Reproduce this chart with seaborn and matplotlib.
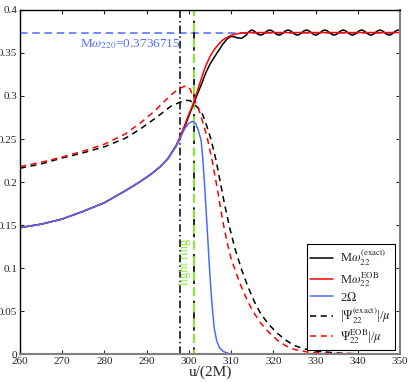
import numpy as np
import pandas as pd
import seaborn as sns
import matplotlib
matplotlib.use("Agg")
import matplotlib.pyplot as plt

# ---- data ----
u_exact = [260, 265, 270, 275, 280, 285, 288, 291, 293, 295, 297, 298, 299, 300,
           301.1, 302, 303, 304, 305, 306, 307, 308, 309, 309.8, 310.6, 311.5,
           312.5, 313.5, 314.2,
           314.80, 315.34, 315.89, 316.43, 316.98, 317.52, 318.06, 318.61,
           319.15, 319.69, 320.24, 320.78, 321.33, 321.87, 322.41, 322.96,
           323.50, 324.04, 324.59, 325.13, 325.68, 326.22, 326.76, 327.31,
           327.85, 328.39, 328.94, 329.48, 330.03, 330.57, 331.11, 331.66,
           332.20, 332.74, 333.29, 333.83, 334.38, 334.92, 335.46, 336.01,
           336.55, 337.09, 337.64, 338.18, 338.73, 339.27, 339.81, 340.36,
           340.90, 341.44, 341.99, 342.53, 343.08, 343.62, 344.16, 344.71,
           345.25, 345.79, 346.34, 346.88, 347.43, 347.97, 348.51, 349.06,
           349.60, 350.0]
omega_exact = [0.147, 0.151, 0.157, 0.166, 0.176, 0.190, 0.199, 0.209, 0.217, 0.227,
               0.242, 0.252, 0.264, 0.277, 0.291, 0.302, 0.314, 0.327, 0.337, 0.345,
               0.3525, 0.360, 0.366, 0.3690, 0.3690, 0.3675, 0.3670, 0.3705, 0.3745,
               0.3767, 0.3758, 0.3737, 0.3716, 0.3707, 0.3716, 0.3737, 0.3758,
               0.3767, 0.3758, 0.3737, 0.3716, 0.3707, 0.3716, 0.3737, 0.3758,
               0.3767, 0.3758, 0.3737, 0.3716, 0.3707, 0.3716, 0.3737, 0.3758,
               0.3767, 0.3758, 0.3737, 0.3716, 0.3707, 0.3716, 0.3737, 0.3758,
               0.3767, 0.3758, 0.3737, 0.3716, 0.3707, 0.3716, 0.3737, 0.3758,
               0.3767, 0.3758, 0.3737, 0.3716, 0.3707, 0.3716, 0.3737, 0.3758,
               0.3767, 0.3758, 0.3737, 0.3716, 0.3707, 0.3716, 0.3737, 0.3758,
               0.3767, 0.3758, 0.3737, 0.3716, 0.3707, 0.3716, 0.3737, 0.3758,
               0.3767, 0.3760]

u_eob = [260, 265, 270, 275, 280, 285, 288, 291, 293, 295, 297, 298, 299, 300,
         301.1, 302, 303, 303.6, 304, 305, 306, 307, 308, 309, 310, 311, 312.4,
         314, 350]
omega_eob = [0.147, 0.151, 0.157, 0.166, 0.176, 0.190, 0.199, 0.209, 0.217, 0.227,
             0.243, 0.254, 0.266, 0.279, 0.292, 0.306, 0.321, 0.330, 0.335, 0.346,
             0.354, 0.360, 0.365, 0.368, 0.3705, 0.372, 0.3732, 0.3737, 0.3737]

u_orb = [260, 265, 270, 275, 280, 285, 288, 291, 293, 295, 297, 298, 299, 300,
         300.9, 301.6, 302.3, 302.9, 303.3, 303.8, 304.4, 305.0, 305.5, 306.0,
         306.6, 307.3, 308.2, 309.5, 310.5, 350]
two_omega = [0.147, 0.151, 0.157, 0.166, 0.176, 0.190, 0.199, 0.209, 0.217, 0.227,
             0.242, 0.252, 0.262, 0.2685, 0.2705, 0.268, 0.259, 0.248, 0.227, 0.190,
             0.140, 0.090, 0.056, 0.030, 0.015, 0.007, 0.003, 0.0005, 0.0, 0.0]

u_psi_exact = [260, 265, 270, 275, 280, 285, 288.6, 292, 295.7, 298, 299.3, 300.3,
               301.1, 302.2, 303.3, 304.3, 305.2, 306.4, 307.5, 308.5, 309.6, 311,
               312.5, 314, 315.5, 317, 319, 321, 323, 325, 327, 330, 335, 340, 350]
psi_exact = [0.216, 0.221, 0.228, 0.234, 0.241, 0.251, 0.262, 0.274, 0.288, 0.293,
             0.295, 0.2945, 0.291, 0.286, 0.278, 0.264, 0.250, 0.226, 0.198, 0.173,
             0.148, 0.121, 0.098, 0.078, 0.061, 0.047, 0.034, 0.024, 0.016, 0.010,
             0.0065, 0.0035, 0.0013, 0.0004, 0.0]

u_psi_eob = [260, 265, 270, 275, 280, 285, 288.6, 292, 295.7, 297.5, 299.3, 300.3,
             301.1, 302.5, 303.5, 304.4, 305.6, 306.8, 308, 309, 310, 312, 313.5, 315,
             317, 319, 321, 323, 325, 328, 332, 340, 350]
psi_eob = [0.218, 0.223, 0.229, 0.236, 0.244, 0.256, 0.269, 0.283, 0.301, 0.308,
           0.312, 0.308, 0.298, 0.282, 0.266, 0.250, 0.223, 0.190, 0.155, 0.131,
           0.111, 0.083, 0.066, 0.051, 0.036, 0.025, 0.016, 0.0095, 0.0055, 0.0025,
           0.001, 0.0003, 0.0]

omega_qnm = 0.3736715
u_lso = 297.9      # dash-dot line
u_light_ring = 301.15

xticks = [260, 270, 280, 290, 300, 310, 320, 330, 340, 350]
yticks = [0, 0.05, 0.1, 0.15, 0.2, 0.25, 0.3, 0.35, 0.4]
ytick_labels = ["0", "0.05", "0.1", "0.15", "0.2", "0.25", "0.3", "0.35", "0.4"]

BLUE = "#4d6bfe"
GREEN = "#8ae63c"

sns.set_style("ticks")
plt.rcParams["font.family"] = ["Liberation Serif", "DejaVu Serif"]
plt.rcParams["mathtext.fontset"] = "stix"

fig = plt.figure(figsize=(4.09, 3.82), dpi=100)
ax = fig.add_axes([0.049, 0.073, 0.929, 0.901])

sns.lineplot(x=u_exact, y=omega_exact, ax=ax, color="black", lw=1.1,
             estimator=None, sort=False, label=r"M$\omega_{22}^{(\mathrm{exact})}$")
sns.lineplot(x=u_eob, y=omega_eob, ax=ax, color="red", lw=1.1,
             estimator=None, sort=False, label=r"M$\omega_{22}^{\mathrm{EOB}}$")
sns.lineplot(x=u_orb, y=two_omega, ax=ax, color=BLUE, lw=1.1,
             estimator=None, sort=False, label=r"2$\Omega$")
sns.lineplot(x=u_psi_exact, y=psi_exact, ax=ax, color="black", lw=1.1,
             linestyle=(0, (4, 3)), estimator=None, sort=False,
             label=r"|$\Psi_{22}^{(\mathrm{exact})}$|/$\mu$")
sns.lineplot(x=u_psi_eob, y=psi_eob, ax=ax, color="red", lw=1.1,
             linestyle=(0, (4, 3)), estimator=None, sort=False,
             label=r"$\Psi_{22}^{\mathrm{EOB}}$|/$\mu$")

# reference lines
ax.axhline(omega_qnm, color=BLUE, lw=1.1, linestyle=(0, (5, 3)), zorder=1)
ax.axvline(u_lso, color="black", lw=1.1, linestyle=(0, (5, 2, 1, 2)), zorder=1)
ax.axvline(u_light_ring + 0.05, color="black", lw=1.2, linestyle=(0, (4, 3)), zorder=1)
ax.axvline(u_light_ring, color=GREEN, lw=1.6, linestyle=(2, (4, 3)), zorder=1)

ax.text(274.3, 0.357, r"M$\omega_{220}$=0.3736715", color=BLUE, fontsize=9.5,
        va="baseline", ha="left")
ax.text(300.4, 0.107, "light ring", color=GREEN, fontsize=9, rotation=90,
        va="center", ha="right")

ax.set_xlim(260, 350)
ax.set_ylim(0, 0.4)
ax.set_xticks(xticks)
ax.set_yticks(yticks)
ax.set_yticklabels(ytick_labels)
ax.tick_params(direction="in", length=3, width=0.8, labelsize=8, top=True, right=True,
               pad=2)
ax.set_xlabel("u/(2M)", fontsize=11, labelpad=0)
ax.set_ylabel("")

for side in ["left", "top"]:
    ax.spines[side].set_color("black")
    ax.spines[side].set_linewidth(1.0)
for side in ["bottom", "right"]:
    ax.spines[side].set_color("#808080")
    ax.spines[side].set_linewidth(1.5)

leg = ax.legend(loc="lower right", bbox_to_anchor=(0.987, 0.012), borderaxespad=0,
                fontsize=9, fancybox=False, framealpha=1, edgecolor="black",
                handlelength=1.8, handletextpad=0.6, labelspacing=0.15,
                borderpad=0.3)
leg.get_frame().set_linewidth(0.8)

fig.savefig("out.png", dpi=100)
